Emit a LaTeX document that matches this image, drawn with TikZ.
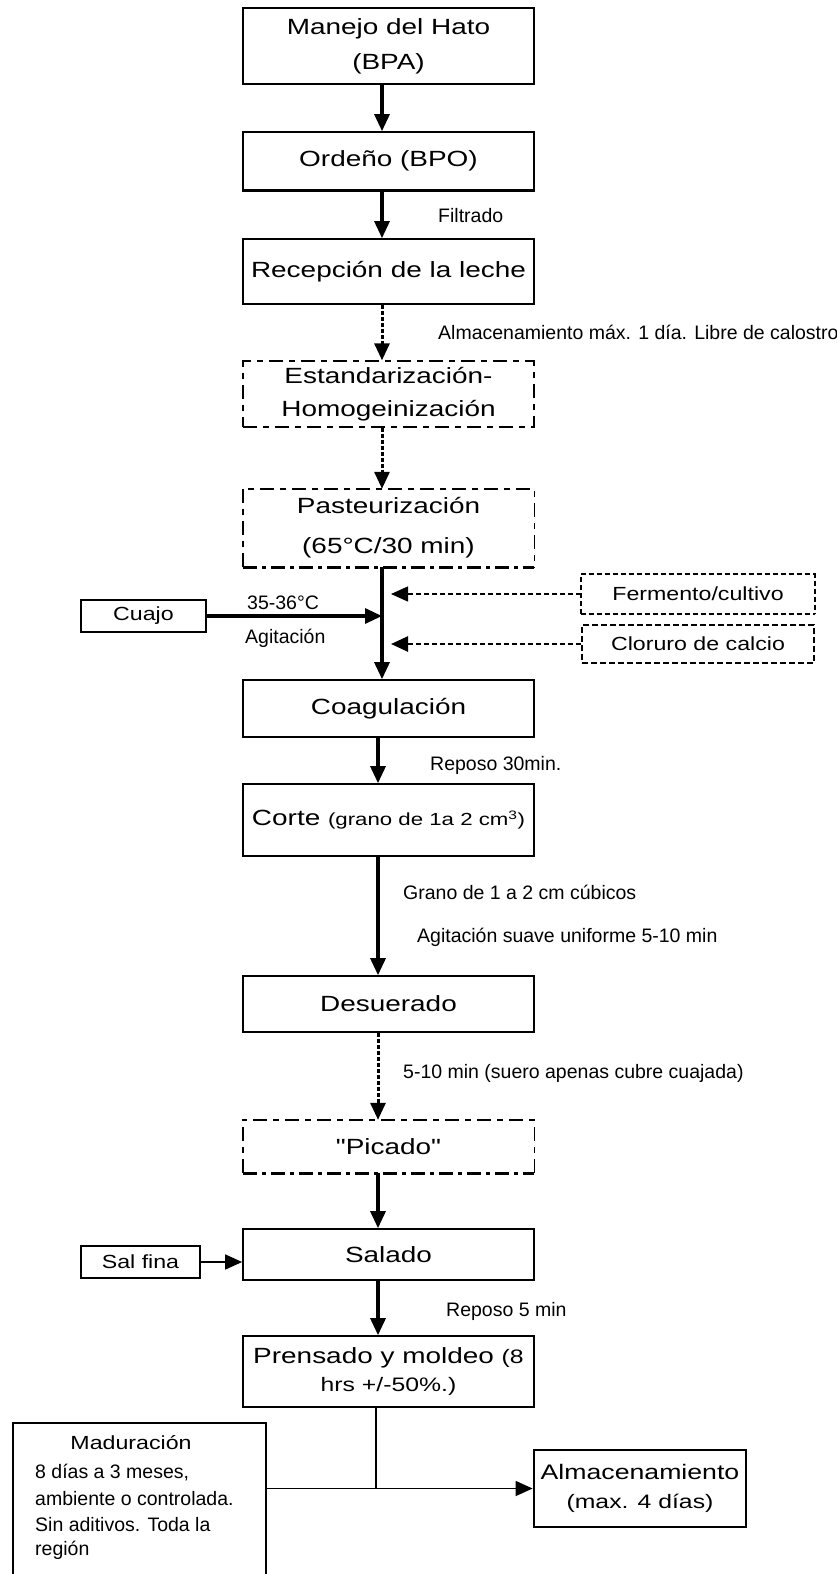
\documentclass[tikz,border=0pt]{standalone}
\usepackage{fontspec}
\setmainfont{Liberation Sans}
\newfontfamily\bxfam[FakeStretch=1.27]{Liberation Sans}
\newfontfamily\sdfam[FakeStretch=1.22]{Liberation Sans}
\newcommand\bxf{\bxfam\fontsize{22}{34}\selectfont}
\newcommand\sdf{\sdfam\fontsize{19}{24}\selectfont}
\newcommand\lbf{\fontsize{19.5}{26}\selectfont}
\usetikzlibrary{arrows.meta,calc}
\begin{document}
\begin{tikzpicture}[x=1pt,y=-1pt,
  box/.style={draw,line width=1.7pt,minimum width=291pt,inner sep=0pt,align=center,font=\bxf},
  nbox/.style={draw=none,minimum width=291pt,inner sep=0pt,align=center,font=\bxf},
  sbox/.style={draw,line width=1.7pt,inner sep=0pt,align=center,font=\sdf},
  lbl/.style={anchor=west,inner sep=0pt,font=\lbf},
  thindash/.style={line width=1.4pt,dash pattern=on 14pt off 6pt on 6pt off 6pt},
  thickdashdot/.style={line width=2.8pt,dash pattern=on 14pt off 5pt on 4pt off 5pt},
  tip/.style={-{Triangle[length=17pt,width=15pt]}},
  arr/.style={tip,line width=3.2pt},
  darr/.style={tip,line width=3pt,dash pattern=on 4pt off 2pt},
  ferarr/.style={tip,line width=1.4pt,dash pattern=on 5pt off 3pt},
  cloarr/.style={tip,line width=2.6pt,dash pattern=on 5pt off 3pt},
  thinarr/.style={tip,line width=1.5pt},
  thinline/.style={line width=1.5pt}
]
\useasboundingbox (0,0) rectangle (837,1574);
\clip (0,0) rectangle (837,1574);

% main column
\node[box,minimum height=76pt] (man) at (388.5,46) {Manejo del Hato\\[1pt](BPA)};
\node[box,minimum height=58pt] (ord) at (388.5,161) {Ordeño (BPO)};
\draw[line width=2.6pt] (ord.south west) -- (ord.south east);
\node[box,minimum height=65pt] (rec) at (388.5,271.5) {Recepción de la leche};
\node[box,thindash,minimum height=66pt] (est) at (388.5,394) {Estandarización-\\[-1pt]Homogeinización};
\node[nbox,minimum height=78pt] (pas) at (388.5,528) {Pasteurización\\[6pt](65°C/30 min)};
\draw[thindash] (pas.south west) -- (pas.north west) -- (pas.north east) -- (pas.south east);
\draw[thickdashdot] (pas.south west) -- (pas.south east);
\node[box,minimum height=57pt] (coa) at (388.5,708.5) {Coagulación};
\node[box,minimum height=72pt] (cor) at (388.5,820) {Corte {\fontsize{17.5}{22}\selectfont (grano de 1a 2 cm\textsuperscript{3})}};
\node[box,minimum height=56pt] (des) at (388.5,1004) {Desuerado};
\node[nbox,minimum height=53pt] (pic) at (388.5,1146.5) {"Picado"};
\draw[thindash] (pic.south west) -- (pic.north west) -- (pic.north east) -- (pic.south east);
\draw[thickdashdot] (pic.south west) -- (pic.south east);
\node[box,minimum height=51pt] (sal) at (388.5,1254.5) {Salado};
\node[box,minimum height=71pt] (pre) at (388.5,1371.5) {Prensado y moldeo {\lbf (8}\\[-6pt]{\lbf hrs +/-50\%.)}};

% side boxes
\node[sbox,minimum width=125pt,minimum height=32pt] (cua) at (143.5,616) {Cuajo};
\node[sbox,draw=none,minimum width=232pt,minimum height=38pt] (fer) at (698,594) {Fermento/cultivo};
\draw[line width=1.4pt,dash pattern=on 5pt off 3pt] (fer.south west) -- (fer.north west) -- (fer.north east) -- (fer.south east);
\draw[line width=2.7pt,dash pattern=on 5pt off 3pt] (fer.south west) -- (fer.south east);
\node[sbox,line width=2.4pt,dash pattern=on 6pt off 3pt,minimum width=232pt,minimum height=38pt] (clo) at (698,644) {Cloruro de calcio};
\node[sbox,minimum width=119pt,minimum height=32pt] (sfi) at (140.5,1262) {Sal fina};
\node[draw,line width=2.8pt,minimum width=212pt,minimum height=77pt,inner sep=0pt,align=center,font=\bxfam\fontsize{21}{29}\selectfont] (alm) at (640,1488.5) {Almacenamiento\\{\lbf (max. 4 días)}};
\node[draw,line width=1.7pt,minimum width=253pt,minimum height=200pt,anchor=north west,inner sep=0pt] (mad) at (12,1422) {};
\node[inner sep=0pt,font=\sdf] (madt) at (131,1443) {Maduración};
\node[lbl] (m1) at (35,1473) {8 días a 3 meses,};
\node[lbl] (m2) at (35,1499) {ambiente o controlada.};
\node[lbl] (m3) at (35,1525) {Sin aditivos. Toda la};
\node[lbl] (m4) at (35,1550) {región};

% labels
\node[lbl] (l1) at (438,216) {Filtrado};
\node[lbl] (l2) at (438,332) {Almacenamiento máx. 1 día. Libre de calostro};
\node[lbl] (l3) at (247,603) {35-36°C};
\node[lbl] (l4) at (245,638) {Agitación};
\node[lbl] (l5) at (430,765) {Reposo 30min.};
\node[lbl] (l6) at (403,892) {Grano de 1 a 2 cm cúbicos};
\node[lbl] (l7) at (417,937) {Agitación suave uniforme 5-10 min};
\node[lbl] (l8) at (403,1073) {5-10 min (suero apenas cubre cuajada)};
\node[lbl] (l9) at (446,1311) {Reposo 5 min};

% connectors
\coordinate (vx) at (382,0);
\coordinate (vy) at (378,0);
\coordinate (vz) at (376,0);
\draw[arr] (man.south -| vx) -- (ord.north -| vx);
\draw[arr] (ord.south -| vx) -- (rec.north -| vx);
\draw[darr] (rec.south -| vx) -- (est.north -| vx);
\draw[darr] (est.south -| vx) -- (pas.north -| vx);
\draw[arr] (pas.south -| vx) -- (coa.north -| vx);
\draw[arr] (cua.east) -- (cua.east -| vx);
\draw[ferarr] (fer.west) -- ([xshift=9pt]fer.west -| vx);
\draw[cloarr] (clo.west) -- ([xshift=9pt]clo.west -| vx);
\draw[arr] (coa.south -| vy) -- (cor.north -| vy);
\draw[arr] (cor.south -| vy) -- (des.north -| vy);
\draw[darr] (des.south -| vy) -- (pic.north -| vy);
\draw[arr] (pic.south -| vy) -- (sal.north -| vy);
\draw[thinarr] (sfi.east) -- (sfi.east -| sal.west);
\draw[arr] (sal.south -| vy) -- (pre.north -| vy);
\coordinate (jn) at (vz |- alm.west);
\draw[thinline] (pre.south -| vz) -- (jn);
\draw[thinarr] (mad.east |- alm.west) -- (alm.west);
\end{tikzpicture}
\end{document}
